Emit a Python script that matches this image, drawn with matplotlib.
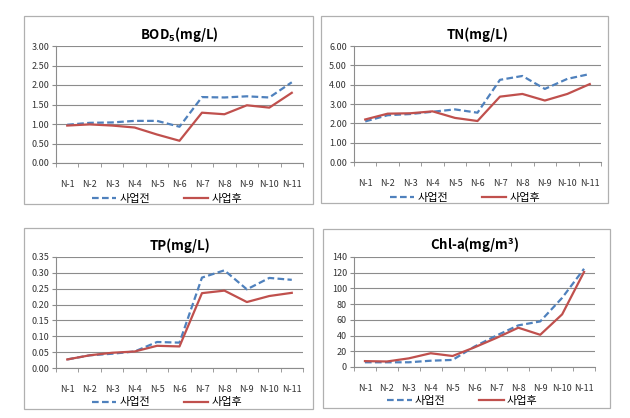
import matplotlib
matplotlib.use('Agg')
import matplotlib.pyplot as plt
from matplotlib.patches import Rectangle
import numpy as np

plt.rcParams['font.family'] = ['Noto Sans CJK KR', 'DejaVu Sans']
plt.rcParams['mathtext.default'] = 'regular'

# data
stations = ['N-1', 'N-2', 'N-3', 'N-4', 'N-5', 'N-6', 'N-7', 'N-8', 'N-9', 'N-10', 'N-11']

bod_before = [0.98, 1.03, 1.04, 1.08, 1.08, 0.93, 1.69, 1.68, 1.71, 1.68, 2.07]
bod_after = [0.96, 0.99, 0.96, 0.91, 0.73, 0.57, 1.29, 1.25, 1.48, 1.42, 1.80]

tn_before = [2.10, 2.42, 2.48, 2.60, 2.72, 2.55, 4.25, 4.45, 3.78, 4.30, 4.55]
tn_after = [2.20, 2.50, 2.52, 2.62, 2.28, 2.12, 3.38, 3.52, 3.18, 3.52, 4.03]

tp_before = [0.027, 0.040, 0.045, 0.052, 0.082, 0.080, 0.285, 0.308, 0.248, 0.284, 0.278]
tp_after = [0.027, 0.040, 0.048, 0.052, 0.070, 0.068, 0.236, 0.244, 0.208, 0.227, 0.237]

chla_before = [6, 6, 6, 8, 9, 26, 40, 53, 58, 88, 125]
chla_after = [7.5, 7, 11, 17.5, 14, 25, 37, 50, 41, 67, 121]

legend_labels = ['사업전', '사업후']

W, H = 630, 418
fig = plt.figure(figsize=(6.3, 4.18), dpi=100)
fig.patch.set_facecolor('white')

c_before = '#4F81BD'
c_after = '#C0504D'
grid_c = '#8C8C8C'


def px_rect(x0, y0, x1, y1):
    return [x0 / W, 1 - y1 / H, (x1 - x0) / W, (y1 - y0) / H]


panels = [
    # border, axes box, title, data, ylim, yticks, fmt
    ((24, 16, 313, 204), (56, 46, 303, 163), r'BOD$_{5}$(mg/L)',
     bod_before, bod_after, 3.0, np.arange(0, 3.01, 0.5), '{:.2f}'),
    ((321, 16, 608, 203), (354, 46, 601, 162), 'TN(mg/L)',
     tn_before, tn_after, 6.0, np.arange(0, 6.01, 1.0), '{:.2f}'),
    ((24, 228, 313, 409), (56, 257, 303, 368), 'TP(mg/L)',
     tp_before, tp_after, 0.35, np.arange(0, 0.351, 0.05), '{:.2f}'),
    ((323, 229, 610, 408), (354, 257, 595, 367), r'Chl-a(mg/m$^{3}$)',
     chla_before, chla_after, 140, np.arange(0, 141, 20), '{:.0f}'),
]

x = np.arange(len(stations))

for border, box, title, before, after, ymax, yt, fmt in panels:
    fig.patches.append(Rectangle((border[0] / W, 1 - border[3] / H),
                                 (border[2] - border[0]) / W, (border[3] - border[1]) / H,
                                 transform=fig.transFigure, facecolor='none',
                                 edgecolor='#B0B0B0', linewidth=0.9))
    ax = fig.add_axes(px_rect(*box))
    l1, = ax.plot(x, before, color=c_before, linestyle=(0, (3, 1.5)), linewidth=1.6, zorder=3)
    l2, = ax.plot(x, after, color=c_after, linestyle='-', linewidth=1.6, zorder=4)
    ax.set_xlim(-0.5, len(stations) - 0.5)
    ax.set_ylim(0, ymax)
    ax.set_yticks(yt)
    ax.set_yticklabels([fmt.format(v) for v in yt])
    ax.set_xticks(x)
    ax.set_xticklabels(stations)
    ax.set_xticks(np.arange(-0.5, len(stations)), minor=True)
    ax.tick_params(axis='x', which='major', length=0, pad=12, labelsize=6.5, labelcolor='#333333')
    ax.tick_params(axis='x', which='minor', length=3, color=grid_c, direction='out')
    ax.tick_params(axis='y', length=3, color=grid_c, labelsize=6.5, labelcolor='#333333', pad=2)
    ax.grid(True, axis='y', color=grid_c, linewidth=0.8, zorder=0)
    for s in ['top', 'right']:
        ax.spines[s].set_visible(False)
    for s in ['left', 'bottom']:
        ax.spines[s].set_color(grid_c)
        ax.spines[s].set_linewidth(0.8)
    ax.set_title(title, fontsize=9.5, fontweight='bold', pad=5)
    ax.legend([l1, l2], legend_labels, loc='center', bbox_to_anchor=(0.45, -0.31),
              ncol=2, frameon=False, fontsize=8, handlelength=2.2, columnspacing=3.0,
              handletextpad=0.3)

fig.savefig('out.png', dpi=100)
